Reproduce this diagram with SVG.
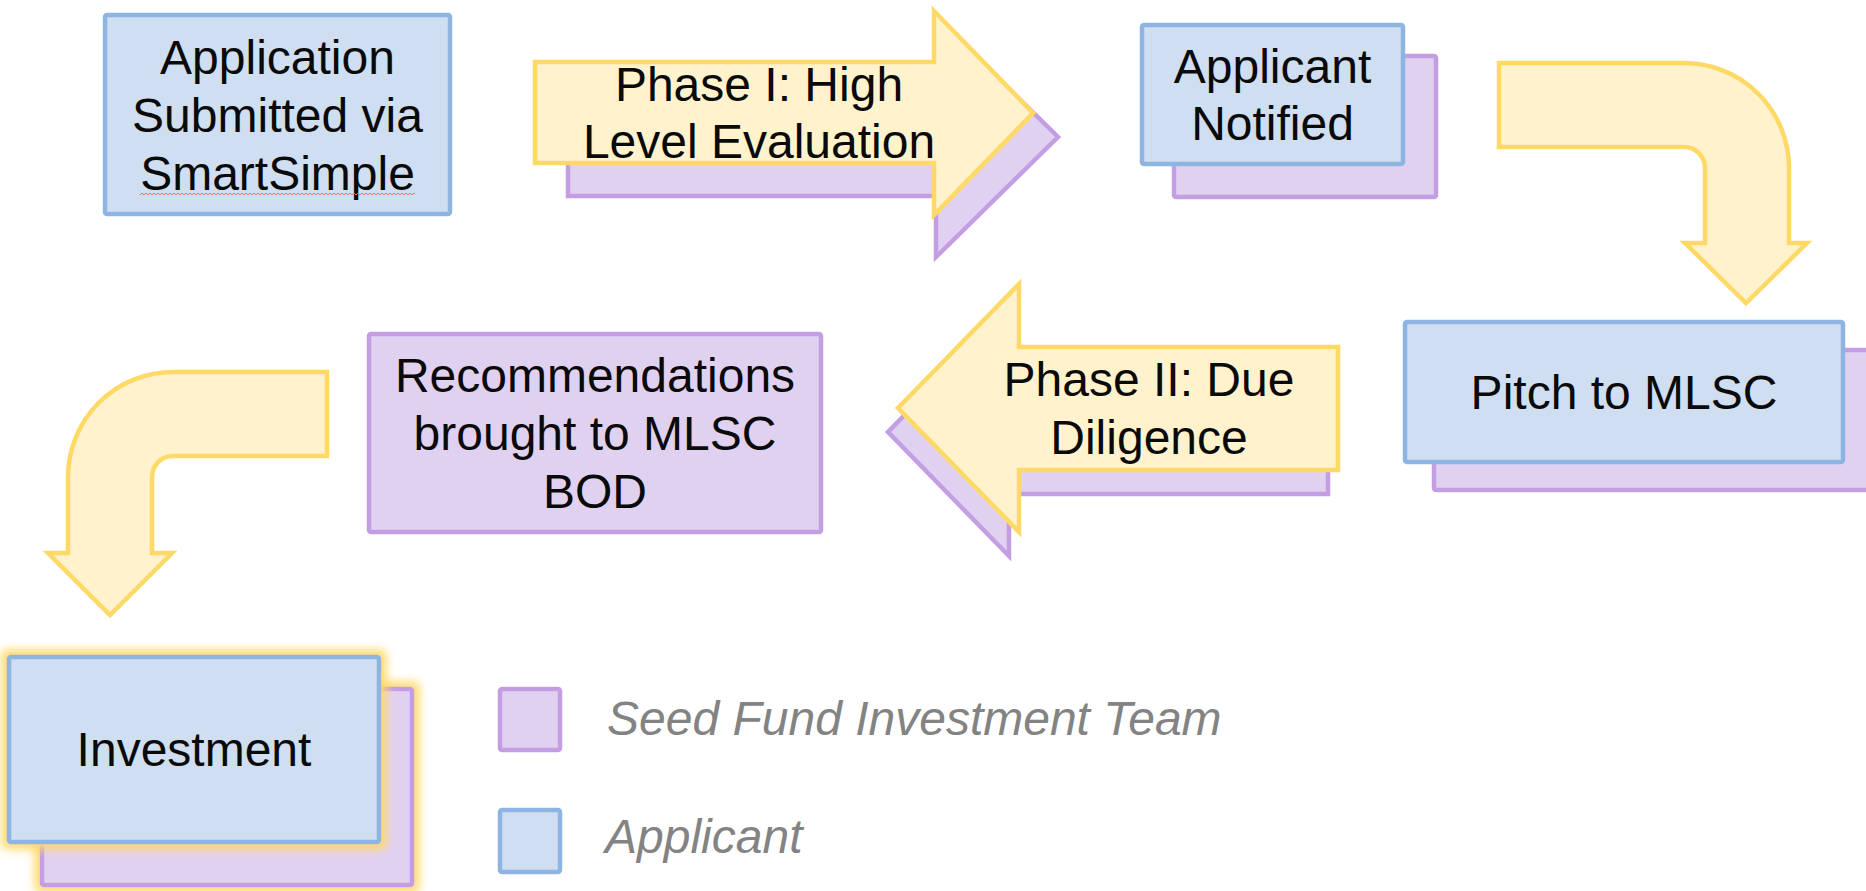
<svg xmlns="http://www.w3.org/2000/svg" width="1866" height="891" viewBox="0 0 1866 891">
  <defs>
    <style>
      .blue { fill: #cfdef1; stroke: #8eb4e2; stroke-width: 4.5; }
      .purple { fill: #e1d1f1; stroke: #c49ee2; stroke-width: 4.5; }
      .yellow { fill: #fff2cc; stroke: #ffd966; stroke-width: 4.5; stroke-linejoin: miter; }
      .label { font-family: "Liberation Sans", Arial, sans-serif; font-size: 48px; fill: #0a0a0a; text-anchor: middle; }
      .legend { font-family: "Liberation Sans", Arial, sans-serif; font-size: 48px; font-style: italic; fill: #838383; }
    </style>
    <!-- soft yellow halo used on the Investment stack -->
    <filter id="glow" x="-15%" y="-15%" width="130%" height="130%">
      <feMorphology in="SourceAlpha" operator="dilate" radius="5" result="grown"/>
      <feGaussianBlur in="grown" stdDeviation="5" result="soft"/>
      <feFlood flood-color="#ffd966" flood-opacity="1"/>
      <feComposite in2="soft" operator="in" result="halo"/>
      <feMerge>
        <feMergeNode in="halo"/>
        <feMergeNode in="SourceGraphic"/>
      </feMerge>
    </filter>
    <!-- spell-check squiggle -->
    <pattern id="squiggle" width="4" height="4" patternUnits="userSpaceOnUse">
      <path d="M0,3 L2,1 L4,3" fill="none" stroke="#e57373" stroke-width="1"/>
    </pattern>
  </defs>

  <rect width="1866" height="891" fill="#ffffff"/>

  <!-- bent flow arrows -->
  <g id="connectors">
    <path class="yellow" d="M1499,63 H1684 A105,105 0 0 1 1789,168 V243 H1807 L1746,303 L1685,243 H1705 V168 A21,21 0 0 0 1684,147 H1499 Z"/>
    <path class="yellow" d="M327,372 H173 A105,105 0 0 0 68,477 V553 H48 L110,615 L172,553 H152 V477 A21,21 0 0 1 173,456 H327 Z"/>
  </g>

  <g id="application-submitted">
    <rect class="blue" x="105" y="15" width="345" height="199" rx="2"/>
    <text class="label" x="277.5" y="74">Application</text>
    <text class="label" x="277.5" y="132">Submitted via</text>
    <text class="label" x="277.5" y="190">SmartSimple</text>
    <rect x="140" y="191" width="275" height="4" fill="url(#squiggle)"/>
  </g>

  <g id="phase-1">
    <path class="purple" d="M568,78 H936 V17 L1058,137 L936,257 V196 H568 Z"/>
    <path class="yellow" d="M535,62 H934 V11 L1033,113 L934,215 V163 H535 Z"/>
    <text class="label" x="759" y="101">Phase I: High</text>
    <text class="label" x="759" y="158">Level Evaluation</text>
  </g>

  <g id="applicant-notified">
    <rect class="purple" x="1174" y="56" width="262" height="141" rx="2"/>
    <rect class="blue" x="1142" y="25" width="261" height="139" rx="2"/>
    <text class="label" x="1272.5" y="83">Applicant</text>
    <text class="label" x="1272.5" y="140">Notified</text>
  </g>

  <g id="pitch-to-mlsc">
    <rect class="purple" x="1434" y="350" width="440" height="140" rx="2"/>
    <rect class="blue" x="1405" y="322" width="438" height="140" rx="2"/>
    <text class="label" x="1624" y="409">Pitch to MLSC</text>
  </g>

  <g id="phase-2">
    <path class="purple" d="M1328,371 H1009 V308 L888,432 L1009,556 V494 H1328 Z"/>
    <path class="yellow" d="M1338,347 H1019 V284 L898,408 L1019,532 V470 H1338 Z"/>
    <text class="label" x="1149" y="396">Phase II: Due</text>
    <text class="label" x="1149" y="454">Diligence</text>
  </g>

  <g id="recommendations">
    <rect class="purple" x="369" y="334" width="452" height="198" rx="2"/>
    <text class="label" x="595" y="392">Recommendations</text>
    <text class="label" x="595" y="450">brought to MLSC</text>
    <text class="label" x="595" y="508">BOD</text>
  </g>

  <g id="investment">
    <rect class="purple" x="42" y="689" width="370" height="196" rx="2" filter="url(#glow)"/>
    <rect class="blue" x="9" y="657" width="370" height="185" rx="2" filter="url(#glow)"/>
    <text class="label" x="194" y="766">Investment</text>
  </g>

  <g id="legend">
    <rect class="purple" x="500" y="689" width="60" height="61" rx="2"/>
    <text class="legend" x="607" y="735">Seed Fund Investment Team</text>
    <rect class="blue" x="500" y="810" width="60" height="62" rx="2"/>
    <text class="legend" x="605" y="853">Applicant</text>
  </g>
</svg>
